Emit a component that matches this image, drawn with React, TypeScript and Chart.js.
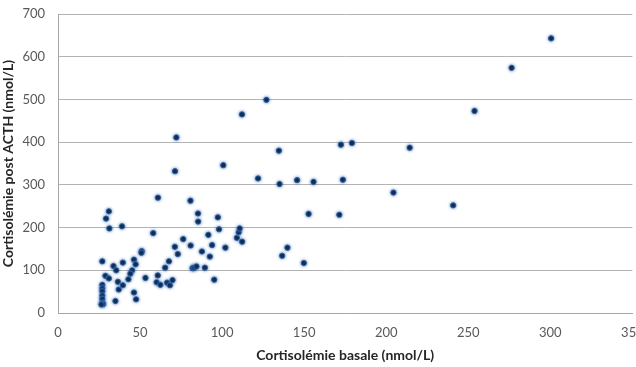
import React, { useEffect, useRef } from "react";
import { Chart, registerables } from "chart.js";

Chart.register(...registerables);

// Cortisolémie basale (nmol/L)
const basal: number[] = [
  27, 27, 27, 27, 27, 27, 27, 27.5, 26.5, 28.9,
  31, 33.8, 35.5, 36.5, 37, 35, 39.5, 39.5, 31, 29.3,
  31.3, 39, 46.3, 47.3, 45.2, 44.1, 42.9, 46.3, 47.6, 51,
  50.8, 53.3, 58, 60.9, 60.8, 60.1, 62.4, 65.3, 67.6, 66.5,
  68.2, 69.8, 71.2, 73, 71.3, 72.1, 76.3, 80.7, 80.8, 82,
  83, 84.4, 85.3, 85.4, 87.7, 89.5, 91.6, 92.5, 93.9, 95.2,
  97.4, 98.1, 100.7, 102, 109, 110.1, 110.7, 112.2, 112.1, 121.9,
  127, 134.6, 135, 136.6, 139.8, 145.7, 149.8, 152.7, 155.7, 171.4,
  172.4, 173.6, 179.1, 204.4, 214.3, 240.8, 253.8, 276.4, 300.5,
];
// Cortisolémie post ACTH (nmol/L)
const postACTH: number[] = [
  121, 66, 58, 51, 41, 33, 23, 21, 20, 87,
  81, 110, 100, 73, 55, 28, 118, 65, 238, 221,
  198, 203, 125, 114, 100, 92, 79, 48, 32, 145,
  141, 82, 187, 270, 88, 72, 66, 106, 121, 71,
  65, 77, 155, 138, 332, 411, 173, 263, 158, 105,
  106, 109, 233, 214, 144, 106, 183, 132, 159, 78,
  224, 196, 346, 153, 176, 189, 198, 167, 465, 315,
  499, 380, 302, 134, 153, 311, 117, 232, 307, 230,
  394, 312, 398, 282, 387, 252, 473, 574, 643,
];

const xTitle = "Cortisolémie basale (nmol/L)";
const yTitle = "Cortisolémie post ACTH (nmol/L)";

const glowPlugin = {
  id: "glow",
  beforeDatasetsDraw(chart: any) {
    const ctx = chart.ctx;
    ctx.save();
    ctx.shadowColor = "rgba(50,110,190,0.85)";
    ctx.shadowBlur = 3;
  },
  afterDatasetsDraw(chart: any) {
    chart.ctx.restore();
  },
};

export default function App() {
  const ref = useRef<HTMLCanvasElement | null>(null);

  useEffect(() => {
    document.body.style.margin = "0";
    if (!ref.current) return;
    const points = basal.map((x, i) => ({ x, y: postACTH[i] }));
    const font = "Lato, 'Liberation Sans', sans-serif";
    const chart = new Chart(ref.current, {
      type: "scatter",
      data: {
        datasets: [
          {
            data: points,
            pointRadius: 2.6,
            pointHoverRadius: 2.6,
            backgroundColor: "#0a1a35",
            borderColor: "#2d5f9a",
            borderWidth: 1,
          },
        ],
      },
      plugins: [glowPlugin],
      options: {
        animation: false,
        responsive: false,
        maintainAspectRatio: false,
        layout: { padding: { top: 14, right: 2, left: 0, bottom: 0 } },
        plugins: { legend: { display: false }, tooltip: { enabled: false } },
        scales: {
          x: {
            type: "linear",
            min: 0,
            max: 350,
            ticks: {
              stepSize: 50,
              color: "#595959",
              padding: 12,
              font: { family: font, size: 13 },
            },
            grid: { display: false, drawTicks: false },
            border: { display: true, color: "#a6a6a6" },
            title: {
              display: true,
              text: xTitle,
              color: "#262626",
              font: { family: font, size: 14, weight: "bold" },
              padding: { top: 0, bottom: 3 },
            },
            afterFit: (s: any) => {
              s.height = 54;
              s.paddingLeft = 0;
              s.paddingRight = 0;
            },
          },
          y: {
            type: "linear",
            min: 0,
            max: 700,
            ticks: {
              stepSize: 100,
              color: "#595959",
              padding: 13,
              font: { family: font, size: 13 },
            },
            grid: { color: "#b3b3b3", drawTicks: false },
            border: { display: true, color: "#a6a6a6" },
            title: {
              display: true,
              text: yTitle,
              color: "#262626",
              font: { family: font, size: 14, weight: "bold" },
              padding: { top: 0, bottom: 0 },
            },
            afterFit: (s: any) => {
              s.width = 58;
              s.paddingTop = 0;
              s.paddingBottom = 0;
            },
          },
        },
      },
    });
    return () => chart.destroy();
  }, []);

  return (
    <div style={{ width: 636, height: 367 }}>
      <canvas ref={ref} width={636} height={367} style={{ display: "block" }} />
    </div>
  );
}
